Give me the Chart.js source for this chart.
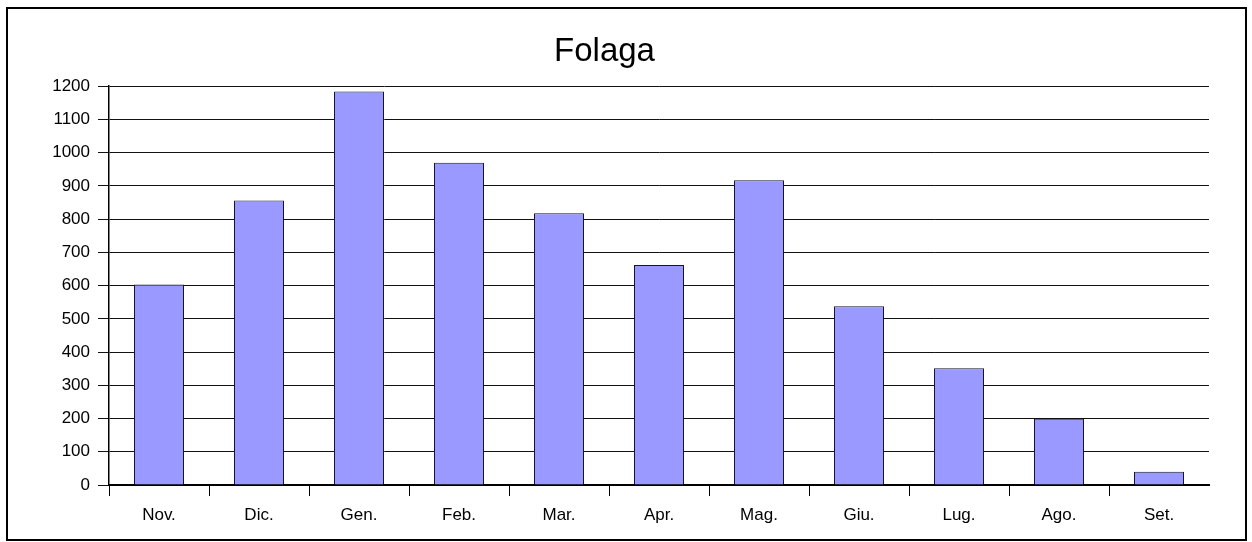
<!DOCTYPE html>
<html>
<head>
<meta charset="utf-8">
<style>
  html, body { margin: 0; padding: 0; background: #ffffff; }
  #wrap { position: relative; width: 1252px; height: 542px; }
</style>
<script src="https://cdn.jsdelivr.net/npm/chart.js@4.4.0/dist/chart.umd.min.js"></script>
</head>
<body>
<div id="wrap"><canvas id="c" width="1252" height="542"></canvas></div>
<script>
const chartTitle = "Folaga";
const categories = ["Nov.", "Dic.", "Gen.", "Feb.", "Mar.", "Apr.", "Mag.", "Giu.", "Lug.", "Ago.", "Set."];
const values = [603, 856, 1184, 970, 818, 662, 917, 538, 351, 199, 40];
const yMin = 0, yMax = 1200, yStep = 100;

const FONT = "'Liberation Sans', Arial, Helvetica, sans-serif";

const outerBorder = {
  id: 'outerBorder',
  afterDraw(chart) {
    const ctx = chart.ctx;
    ctx.save();
    ctx.strokeStyle = '#000';
    ctx.lineWidth = 2;
    ctx.strokeRect(7, 8, 1239, 532);
    ctx.restore();
  }
};

new Chart(document.getElementById('c'), {
  type: 'bar',
  data: {
    labels: categories,
    datasets: [{
      data: values,
      backgroundColor: '#9999FF',
      borderColor: '#141430',
      borderWidth: 1,
      barPercentage: 0.5,
      categoryPercentage: 1.0
    }]
  },
  options: {
    responsive: false,
    animation: false,
    layout: { padding: { left: 0, right: 43, top: 0, bottom: 0 } },
    plugins: {
      legend: { display: false },
      tooltip: { enabled: false },
      title: {
        display: true,
        text: chartTitle,
        color: '#000',
        font: { family: FONT, size: 33, weight: 'normal' },
        padding: { top: 32, bottom: 14.6 }
      }
    },
    scales: {
      x: {
        offset: true,
        grid: {
          offset: true,
          drawOnChartArea: false,
          drawTicks: true,
          tickLength: 11,
          color: (c) => (c.type === 'tick' ? '#000' : 'rgba(0,0,0,0)'),
          lineWidth: 1
        },
        border: { display: true, color: '#000', width: 2 },
        ticks: {
          color: '#000',
          font: { family: FONT, size: 17 },
          padding: 9,
          maxRotation: 0,
          autoSkip: false
        },
        afterFit(scale) { scale.height = 57; }
      },
      y: {
        min: yMin,
        max: yMax,
        grid: {
          drawTicks: true,
          tickLength: 11,
          color: '#111',
          lineWidth: 1
        },
        border: { display: true, color: '#000', width: 1.5 },
        ticks: {
          stepSize: yStep,
          color: '#000',
          font: { family: FONT, size: 17 },
          padding: 8,
          callback: (v) => String(v)
        },
        afterFit(scale) { scale.width = 109; }
      }
    }
  },
  plugins: [outerBorder]
});
</script>
</body>
</html>
